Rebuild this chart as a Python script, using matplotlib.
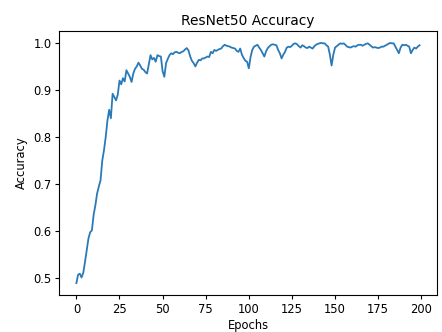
import numpy as np
import matplotlib
matplotlib.use('Agg')
import matplotlib.pyplot as plt

matplotlib.rcParams.update({'font.size': 8.3})
matplotlib.rcParams['xtick.major.size'] = 3.2
matplotlib.rcParams['ytick.major.size'] = 3.2
matplotlib.rcParams['xtick.major.pad'] = 2.4
matplotlib.rcParams['ytick.major.pad'] = 2.4

# validation accuracy per epoch
acc = [0.490, 0.508, 0.510, 0.502, 0.512, 0.535, 0.560, 0.585, 0.598, 0.602,
       0.635, 0.655, 0.680, 0.695, 0.708, 0.750, 0.772, 0.800, 0.835, 0.858,
       0.840, 0.892, 0.885, 0.878, 0.890, 0.920, 0.912, 0.925, 0.918, 0.942,
       0.935, 0.928, 0.917, 0.935, 0.945, 0.950, 0.958, 0.952, 0.945, 0.943,
       0.938, 0.935, 0.955, 0.974, 0.965, 0.968, 0.960, 0.974, 0.972, 0.971,
       0.940, 0.928, 0.957, 0.966, 0.974, 0.978, 0.976, 0.980, 0.981, 0.979,
       0.978, 0.981, 0.982, 0.986, 0.989, 0.984, 0.971, 0.962, 0.957, 0.950,
       0.958, 0.964, 0.963, 0.967, 0.967, 0.969, 0.971, 0.970, 0.981, 0.978,
       0.985, 0.983, 0.985, 0.987, 0.988, 0.993, 0.996, 0.994, 0.993, 0.992,
       0.990, 0.989, 0.988, 0.983, 0.981, 0.988, 0.975, 0.968, 0.962, 0.960,
       0.946, 0.970, 0.985, 0.992, 0.994, 0.996, 0.990, 0.985, 0.978, 0.971,
       0.982, 0.989, 0.993, 0.996, 0.997, 0.996, 0.995, 0.985, 0.978, 0.967,
       0.975, 0.981, 0.990, 0.992, 0.991, 0.994, 0.998, 0.999, 0.997, 0.993,
       0.990, 0.995, 0.993, 0.990, 0.989, 0.992, 0.990, 0.988, 0.993, 0.996,
       0.998, 0.999, 1.000, 0.999, 0.999, 0.995, 0.992, 0.975, 0.952, 0.975,
       0.990, 0.993, 0.996, 0.999, 0.998, 0.999, 0.996, 0.992, 0.991, 0.990,
       0.992, 0.993, 0.992, 0.995, 0.996, 0.996, 0.994, 0.996, 0.998, 0.999,
       0.996, 0.993, 0.990, 0.991, 0.990, 0.989, 0.990, 0.992, 0.992, 0.994,
       0.996, 0.998, 1.000, 0.999, 0.999, 0.992, 0.985, 0.978, 0.990, 0.996,
       0.995, 0.996, 0.994, 0.992, 0.978, 0.985, 0.990, 0.988, 0.992, 0.995]
epochs = np.arange(len(acc))

fig = plt.figure(figsize=(4.42, 3.32), dpi=100)
ax = fig.add_axes([0.134, 0.111, 0.854, 0.796])
ax.plot(epochs, acc, color='#2a7ab8', linewidth=1.3)
ax.set_title('ResNet50 Accuracy', fontsize=9.9, pad=4.5)
ax.set_xlabel('Epochs', labelpad=2.0)
ax.set_ylabel('Accuracy', labelpad=3.5)
ax.set_xticks(np.arange(0, 201, 25))

plt.savefig('out.png', dpi=100)
